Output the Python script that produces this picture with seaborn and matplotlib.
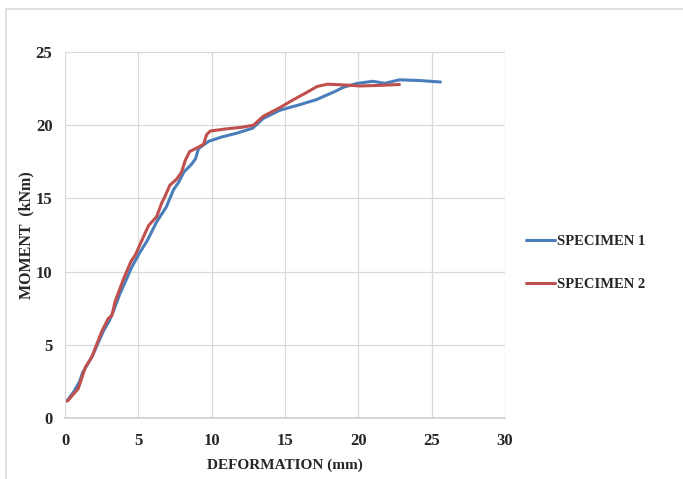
import matplotlib
matplotlib.use("Agg")
import matplotlib.pyplot as plt
import seaborn as sns
import pandas as pd
from matplotlib.patches import Rectangle
from matplotlib.lines import Line2D

spec1_x = [0.16, 0.6, 1.0, 1.2, 1.5, 1.9, 2.2, 2.6, 3.0, 3.3, 3.75, 4.2, 4.55, 5.1, 5.6,
           6.25, 6.9, 7.4, 7.75, 8.1, 8.6, 8.9, 9.1, 9.8, 10.7, 11.7, 12.8, 13.5, 14.6,
           15.1, 16.0, 17.15, 17.6, 18.4, 19.0, 19.9, 21.0, 21.8, 22.8, 24.2, 25.6]
spec1_y = [1.2, 1.8, 2.5, 3.1, 3.6, 4.3, 5.0, 5.9, 6.6, 7.3, 8.5, 9.5, 10.3, 11.3, 12.1,
           13.4, 14.4, 15.6, 16.1, 16.8, 17.3, 17.7, 18.4, 18.9, 19.2, 19.45, 19.8, 20.45, 21.0,
           21.15, 21.4, 21.75, 21.95, 22.3, 22.6, 22.85, 23.0, 22.86, 23.1, 23.05, 22.95]

spec2_x = [0.16, 0.9, 1.1, 1.4, 1.8, 2.15, 2.5, 2.95, 3.2, 3.4, 3.95, 4.5, 4.8, 5.45, 5.7,
           6.25, 6.6, 6.8, 7.15, 7.6, 7.95, 8.2, 8.5, 9.0, 9.45, 9.65, 9.9, 11.0, 12.0,
           12.85, 13.5, 14.65, 15.5, 16.5, 17.2, 17.9, 19.0, 20.1, 21.5, 22.8]
spec2_y = [1.15, 2.0, 2.6, 3.5, 4.1, 5.0, 5.9, 6.8, 7.0, 7.9, 9.4, 10.7, 11.15, 12.6, 13.15,
           13.75, 14.7, 15.1, 15.9, 16.3, 16.8, 17.6, 18.2, 18.45, 18.7, 19.35, 19.6, 19.75, 19.85,
           20.0, 20.6, 21.2, 21.7, 22.25, 22.65, 22.8, 22.75, 22.68, 22.72, 22.78]

series_names = ["SPECIMEN 1", "SPECIMEN 2"]
series_colors = ["#4a7ebb", "#c0504d"]
x_ticks = [0, 5, 10, 15, 20, 25, 30]
y_ticks = [0, 5, 10, 15, 20, 25]

df = pd.concat([
    pd.DataFrame({"x": spec1_x, "y": spec1_y, "s": series_names[0]}),
    pd.DataFrame({"x": spec2_x, "y": spec2_y, "s": series_names[1]}),
], ignore_index=True)

sns.set_theme(style="white")
plt.rcParams["font.family"] = ["Liberation Serif", "DejaVu Serif"]
plt.rcParams["font.weight"] = "bold"

fig = plt.figure(figsize=(6.83, 4.79), dpi=100)
ax = fig.add_axes([65 / 683, 1 - 418 / 479, 440 / 683, 366 / 479])

fig.patches.append(Rectangle((5.5 / 683, -0.1), 1.2, 1 - 9 / 479 + 0.1, transform=fig.transFigure,
                             fill=False, edgecolor="#d9d9d9", linewidth=1.2))

sns.lineplot(data=df, x="x", y="y", hue="s", estimator=None, sort=False,
             palette=dict(zip(series_names, series_colors)),
             linewidth=2.2, ax=ax, legend=False)

ax.set_xlim(0, 30)
ax.set_ylim(0, 25)
ax.set_xticks(x_ticks)
ax.set_yticks(y_ticks)
ax.set_xticklabels([str(t) for t in x_ticks], fontsize=12, fontweight="bold")
ax.set_yticklabels([str(t) for t in y_ticks], fontsize=12, fontweight="bold")
ax.grid(True, color="#d9d9d9", linewidth=0.9)
for s in ["top", "right", "left"]:
    ax.spines[s].set_visible(False)
ax.spines["bottom"].set_color("#d0d0d0")
ax.tick_params(axis="x", length=0, pad=11)
ax.tick_params(axis="y", length=0, pad=9)
ax.set_xlabel("DEFORMATION (mm)", fontsize=11, fontweight="bold", labelpad=7)
ax.set_ylabel("MOMENT  (kNm)", fontsize=11.5, fontweight="bold", labelpad=1)

handles = [Line2D([], [], color=c, linewidth=2.2) for c in series_colors]
fig.legend(handles, series_names, loc="upper left", bbox_to_anchor=(513 / 683, 1 - 222 / 479),
           frameon=False, prop={"family": "Liberation Serif", "weight": "bold", "size": 10.5},
           handlelength=2.0, handletextpad=0.15, labelspacing=2.0)

fig.savefig("out.png", dpi=100)
